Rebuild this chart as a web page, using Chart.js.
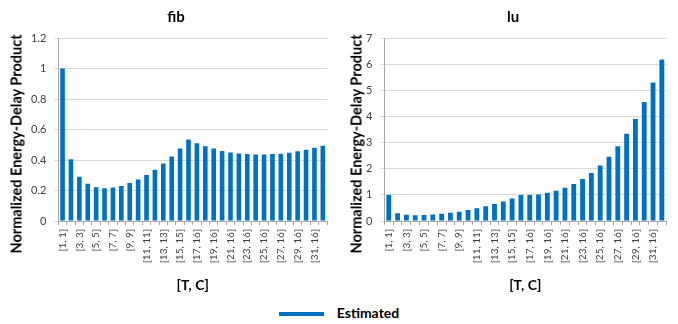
<!DOCTYPE html>
<html>
<head>
<meta charset="utf-8">
<script src="https://cdn.jsdelivr.net/npm/chart.js@4"></script>
<style>
  body { margin: 0; background: #fff; width: 678px; height: 324px; overflow: hidden; font-family: Lato, sans-serif; }
  .panel { position: absolute; top: 0; width: 339px; height: 298px; }
  .ytitle { position: absolute; top: 144px; width: 240px; margin-left: -120px; text-align: center;
            transform: translateY(-50%) rotate(-90deg); font-weight: bold; font-size: 14.5px; color: #000; white-space: nowrap; }
  #legend { position: absolute; top: 304px; left: 0; width: 678px; text-align: center; font-weight: bold; font-size: 14px; color: #000; }
  #legend span.sw { display: inline-block; width: 45px; height: 4px; background: #0070c0; vertical-align: middle; margin-right: 13px; }
</style>
</head>
<body>
<div class="panel" style="left:0"><canvas id="fibChart" width="339" height="298"></canvas></div>
<div class="panel" style="left:339px"><canvas id="luChart" width="339" height="298"></canvas></div>
<div class="ytitle" style="left:16px">Normalized Energy-Delay Product</div>
<div class="ytitle" style="left:356px">Normalized Energy-Delay Product</div>
<div id="legend"><span class="sw"></span>Estimated</div>
<script>
// [T, C] configurations
const configs = [];
for (let t = 1; t <= 32; t++) configs.push('[' + t + ', ' + Math.min(t, 16) + ']');

const fibValues = [1.0, 0.405, 0.29, 0.245, 0.222, 0.215, 0.22, 0.23, 0.25, 0.272, 0.302, 0.337,
  0.378, 0.423, 0.476, 0.535, 0.51, 0.49, 0.475, 0.46, 0.45, 0.443, 0.44, 0.437, 0.437, 0.44,
  0.442, 0.448, 0.457, 0.467, 0.48, 0.493];
const luValues = [1.0, 0.3, 0.24, 0.22, 0.23, 0.25, 0.28, 0.32, 0.36, 0.42, 0.49, 0.57, 0.65,
  0.75, 0.86, 1.0, 1.0, 1.02, 1.08, 1.16, 1.27, 1.42, 1.61, 1.84, 2.12, 2.46, 2.86, 3.34, 3.9,
  4.55, 5.3, 6.18];

const blue = '#0070c0';
const font = 'Lato, sans-serif';

function makeChart(id, title, values, yMax, yStep, pad) {
  const ctx = document.getElementById(id).getContext('2d');
  return new Chart(ctx, {
    type: 'bar',
    data: {
      labels: configs,
      datasets: [{
        label: 'Estimated',
        data: values,
        backgroundColor: blue,
        borderWidth: 0,
        barPercentage: 0.55,
        categoryPercentage: 1.0
      }]
    },
    options: {
      responsive: false,
      animation: false,
      layout: { padding: pad },
      plugins: {
        legend: { display: false },
        tooltip: { enabled: false },
        title: {
          display: true,
          text: title,
          color: '#000',
          font: { family: font, size: 15, weight: 'bold' },
          padding: { top: 2, bottom: 12 }
        }
      },
      scales: {
        x: {
          grid: { offset: true, drawOnChartArea: false, drawTicks: true, tickLength: 4, color: '#a6a6a6' },
          border: { color: '#a6a6a6' },
          ticks: {
            autoSkip: false,
            maxRotation: 90,
            minRotation: 90,
            color: '#404040',
            font: { family: font, size: 10 },
            padding: 4,
            callback: function(v, i) { return i % 2 === 0 ? configs[i] : ''; }
          },
          title: {
            display: true,
            text: '[T, C]',
            color: '#000',
            font: { family: font, size: 14, weight: 'bold' },
            padding: { top: 10 }
          }
        },
        y: {
          min: 0,
          max: yMax,
          grid: { color: '#d9d9d9', drawTicks: true, tickLength: 4 },
          border: { color: '#a6a6a6' },
          ticks: {
            stepSize: yStep,
            color: '#404040',
            font: { family: font, size: 11 },
            padding: 8,
            callback: function(v) { return String(+v.toFixed(2)); }
          }
        }
      }
    }
  });
}

makeChart('fibChart', 'fib', fibValues, 1.2, 0.2, { left: 23, right: 10, top: 6, bottom: 0 });
makeChart('luChart', 'lu', luValues, 7, 1, { left: 19, right: 10, top: 6, bottom: 0 });
</script>
</body>
</html>
